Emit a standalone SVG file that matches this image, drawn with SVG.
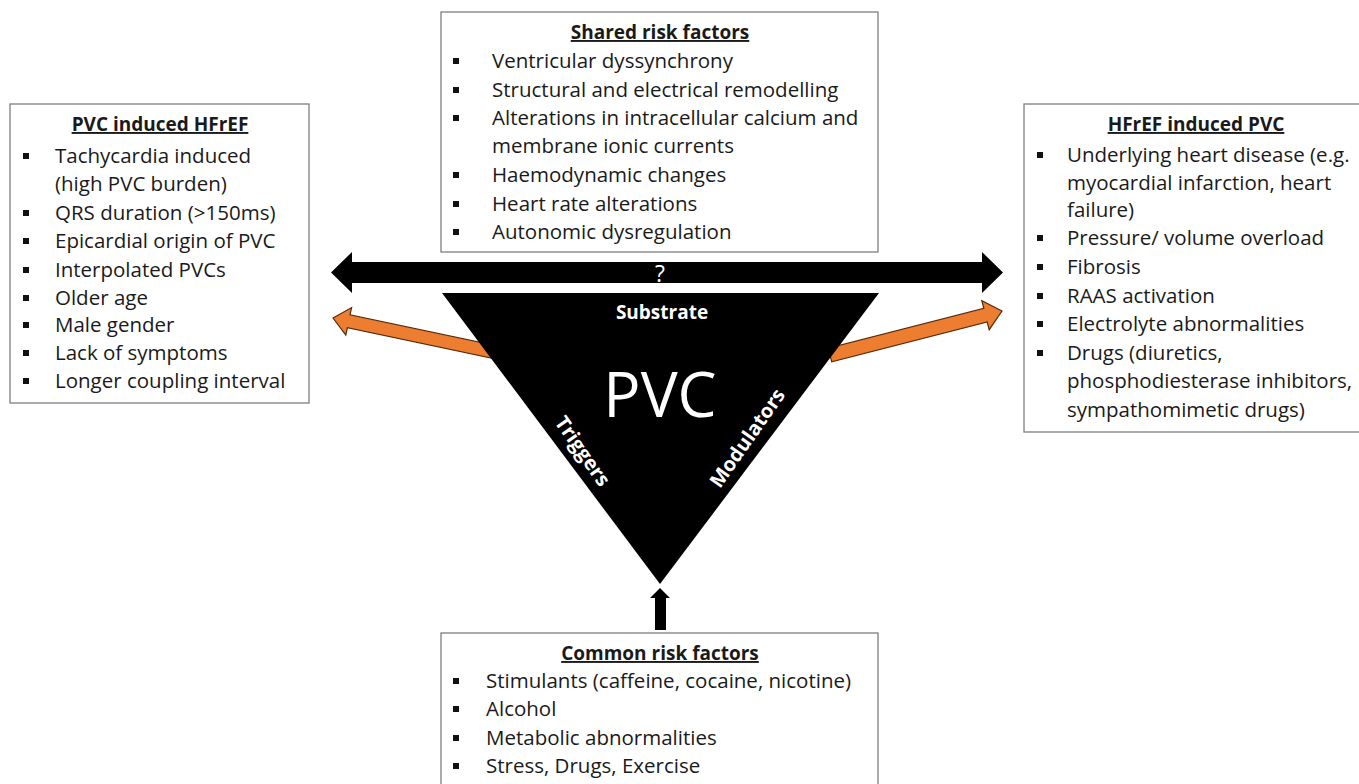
<svg xmlns="http://www.w3.org/2000/svg" width="1359" height="784" viewBox="0 0 1359 784">
<style>
.box{fill:#fff;stroke:#7f7f7f;stroke-width:1.3}
.t{font-family:"Open Sans",Lato,sans-serif;font-size:20.5px;fill:#1a1a1a}
.h{font-family:"Open Sans",Lato,sans-serif;font-size:19px;font-weight:bold;fill:#1a1a1a;text-decoration:underline;text-anchor:middle}
.b{fill:#111}
.w{font-family:"Open Sans",Lato,sans-serif;fill:#fff;text-anchor:middle}
.or{fill:#ED7D31;stroke:#5a2a08;stroke-width:1.2;stroke-linejoin:miter}
</style>
<defs>
<rect id="sq" width="6" height="6" class="b"/>
</defs>
<rect width="1359" height="784" fill="#fff"/>

<g id="connectors">
<polygon points="331,272.5 352,252 352,262 982,262 982,252 1003,272.5 982,293 982,283 352,283 352,293" fill="#000"/>
<polygon class="or" points="333,318 351.6,307.6 350,314.9 493.8,345.2 491.2,358 347.4,327.7 345.8,335"/>
<polygon class="or" points="1002,311 981.8,300.7 983.8,308.4 828.3,348.2 831.7,361.8 987.2,322 989.2,329.7"/>
<polygon points="660,588 670,598 666,598 666,630 655,630 655,598 650,598" fill="#000"/>
</g>

<g id="triangle">
<polygon points="442,293 879,293 660,584" fill="#000"/>
<text class="w" x="662" y="319" font-size="19" font-weight="bold">Substrate</text>
<text class="w" x="660" y="417" font-size="62">PVC</text>
<text class="w" font-size="20" font-weight="bold" transform="translate(577,455) rotate(55)">Triggers</text>
<text class="w" font-size="20" font-weight="bold" transform="translate(753,442) rotate(-55)">Modulators</text>
<text class="w" x="660" y="282" font-size="23">?</text>
</g>

<g id="shared">
<rect class="box" x="441" y="12" width="437" height="240"/>
<text class="h" x="660" y="39">Shared risk factors</text>
<use href="#sq" x="453" y="58"/><text class="t" x="492" y="68">Ventricular dyssynchrony</text>
<use href="#sq" x="453" y="87"/><text class="t" x="492" y="97">Structural and electrical remodelling</text>
<use href="#sq" x="453" y="115"/><text class="t" x="492" y="125">Alterations in intracellular calcium and</text>
<text class="t" x="492" y="153">membrane ionic currents</text>
<use href="#sq" x="453" y="172"/><text class="t" x="492" y="182">Haemodynamic changes</text>
<use href="#sq" x="453" y="201"/><text class="t" x="492" y="211">Heart rate alterations</text>
<use href="#sq" x="453" y="229"/><text class="t" x="492" y="239">Autonomic dysregulation</text>
</g>

<g id="pvc-hfref">
<rect class="box" x="10" y="104" width="299" height="299"/>
<text class="h" x="160" y="131">PVC induced HFrEF</text>
<use href="#sq" x="23" y="153"/><text class="t" x="55" y="163">Tachycardia induced</text>
<text class="t" x="55" y="191">(high PVC burden)</text>
<use href="#sq" x="23" y="210"/><text class="t" x="55" y="220">QRS duration (&gt;150ms)</text>
<use href="#sq" x="23" y="238"/><text class="t" x="55" y="248">Epicardial origin of PVC</text>
<use href="#sq" x="23" y="267"/><text class="t" x="55" y="277">Interpolated PVCs</text>
<use href="#sq" x="23" y="295"/><text class="t" x="55" y="305">Older age</text>
<use href="#sq" x="23" y="322"/><text class="t" x="55" y="332">Male gender</text>
<use href="#sq" x="23" y="350"/><text class="t" x="55" y="360">Lack of symptoms</text>
<use href="#sq" x="23" y="378"/><text class="t" x="55" y="388">Longer coupling interval</text>
</g>

<g id="hfref-pvc">
<rect class="box" x="1024" y="104" width="345" height="328"/>
<text class="h" x="1196" y="131">HFrEF induced PVC</text>
<use href="#sq" x="1037" y="152"/><text class="t" x="1067" y="162">Underlying heart disease (e.g.</text>
<text class="t" x="1067" y="190">myocardial infarction, heart</text>
<text class="t" x="1067" y="217">failure)</text>
<use href="#sq" x="1037" y="235"/><text class="t" x="1067" y="245">Pressure/ volume overload</text>
<use href="#sq" x="1037" y="264"/><text class="t" x="1067" y="274">Fibrosis</text>
<use href="#sq" x="1037" y="293"/><text class="t" x="1067" y="303">RAAS activation</text>
<use href="#sq" x="1037" y="321"/><text class="t" x="1067" y="331">Electrolyte abnormalities</text>
<use href="#sq" x="1037" y="350"/><text class="t" x="1067" y="360">Drugs (diuretics,</text>
<text class="t" x="1067" y="388">phosphodiesterase inhibitors,</text>
<text class="t" x="1067" y="417">sympathomimetic drugs)</text>
</g>

<g id="common">
<rect class="box" x="441" y="633" width="437" height="160"/>
<text class="h" x="660" y="660">Common risk factors</text>
<use href="#sq" x="453" y="678"/><text class="t" x="486" y="688">Stimulants (caffeine, cocaine, nicotine)</text>
<use href="#sq" x="453" y="706"/><text class="t" x="486" y="716">Alcohol</text>
<use href="#sq" x="453" y="735"/><text class="t" x="486" y="745">Metabolic abnormalities</text>
<use href="#sq" x="453" y="763"/><text class="t" x="486" y="773">Stress, Drugs, Exercise</text>
</g>
</svg>
